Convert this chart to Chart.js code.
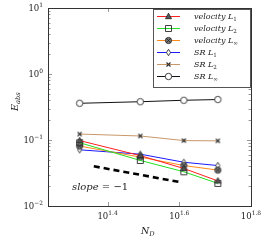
<!DOCTYPE html>
<html>
<head>
<meta charset="utf-8">
<script src="https://cdn.jsdelivr.net/npm/chart.js@4/dist/chart.umd.min.js"></script>
<style>
body { margin: 0; background: #fff; }
</style>
</head>
<body>
<canvas id="myChart" width="265" height="240"></canvas>
<script>
// data
const nD = [21, 31, 41, 51];
const velL1 = [0.098, 0.058, 0.037, 0.024];
const velL2 = [0.091, 0.049, 0.033, 0.022];
const velLinf = [0.081, 0.055, 0.041, 0.035];
const srL1 = [0.071, 0.061, 0.046, 0.041];
const srL2 = [0.123, 0.115, 0.098, 0.097];
const srLinf = [0.36, 0.38, 0.40, 0.41];
const slopeX = [23, 40];
const slopeY = [0.040, 0.023];

const yTickVals = [0.01, 0.1, 1, 10];
const yTickExp = ['-2', '-1', '0', '1'];
const xTickExp = ['1.4', '1.6', '1.8'];
const xTickVals = xTickExp.map(e => Math.pow(10, parseFloat(e)));

const SERIF = '"DejaVu Serif", "Liberation Serif", serif';
const MARK = '#2a2a2a';

// marker images
function markImg(kind) {
	const c = document.createElement('canvas');
	c.width = 11; c.height = 11;
	const g = c.getContext('2d');
	g.strokeStyle = MARK;
	g.lineWidth = 0.9;
	const m = 5.5;
	g.beginPath();
	if (kind == 'tri') {
		g.moveTo(m, m - 3.3); g.lineTo(m + 3, m + 2.2); g.lineTo(m - 3, m + 2.2); g.closePath();
		g.fillStyle = '#555'; g.fill(); g.stroke();
	} else if (kind == 'sq') {
		g.rect(m - 3, m - 3, 6, 6);
		g.stroke();
	} else if (kind == 'otimes') {
		g.arc(m, m, 3.1, 0, Math.PI * 2);
		g.fillStyle = '#777'; g.fill(); g.stroke();
		g.beginPath();
		g.moveTo(m - 2.1, m - 2.1); g.lineTo(m + 2.1, m + 2.1);
		g.moveTo(m + 2.1, m - 2.1); g.lineTo(m - 2.1, m + 2.1);
		g.stroke();
	} else if (kind == 'diam') {
		g.moveTo(m, m - 3.2); g.lineTo(m + 2, m); g.lineTo(m, m + 3.2); g.lineTo(m - 2, m); g.closePath();
		g.fillStyle = '#fff'; g.fill(); g.stroke();
	} else if (kind == 'x') {
		g.lineWidth = 1.1;
		g.moveTo(m - 2, m - 2); g.lineTo(m + 2, m + 2);
		g.moveTo(m + 2, m - 2); g.lineTo(m - 2, m + 2);
		g.stroke();
	} else {
		g.arc(m, m, 3.2, 0, Math.PI * 2);
		g.fillStyle = '#fff'; g.fill(); g.stroke();
	}
	return c;
}

const series = [
	{ name: 'velocity', sub: '1', data: velL1, color: '#ff2020', mark: markImg('tri') },
	{ name: 'velocity', sub: '2', data: velL2, color: '#22e022', mark: markImg('sq') },
	{ name: 'velocity', sub: '\u221e', data: velLinf, color: '#ff8a1c', mark: markImg('otimes') },
	{ name: 'SR', sub: '1', data: srL1, color: '#1a1aff', mark: markImg('diam') },
	{ name: 'SR', sub: '2', data: srL2, color: '#c89868', mark: markImg('x') },
	{ name: 'SR', sub: '\u221e', data: srLinf, color: '#111', mark: markImg('circ') }
];

const datasets = series.map(s => ({
	data: s.data.map((v, i) => ({ x: nD[i], y: v })),
	borderColor: s.color,
	borderWidth: 1,
	pointStyle: s.mark,
	pointRadius: 4,
	tension: 0
}));
datasets.push({
	data: slopeX.map((v, i) => ({ x: v, y: slopeY[i] })),
	borderColor: '#000',
	borderWidth: 2.6,
	borderDash: [6, 4],
	pointRadius: 0
});

function supText(ctx, base, exp, x, y, size, align) {
	ctx.font = size + 'px ' + SERIF;
	const wb = ctx.measureText(base).width;
	ctx.font = (size * 0.7) + 'px ' + SERIF;
	const we = ctx.measureText(exp).width;
	let x0 = x;
	if (align == 'right') x0 = x - wb - we;
	if (align == 'center') x0 = x - (wb + we) / 2;
	ctx.textAlign = 'left';
	ctx.textBaseline = 'alphabetic';
	ctx.font = size + 'px ' + SERIF;
	ctx.fillText(base, x0, y);
	ctx.font = (size * 0.7) + 'px ' + SERIF;
	ctx.fillText(exp, x0 + wb, y - size * 0.42);
}

function italicSub(ctx, main, sub, x, y, size, subItalic) {
	ctx.textAlign = 'left';
	ctx.textBaseline = 'alphabetic';
	ctx.font = 'italic ' + size + 'px ' + SERIF;
	ctx.fillText(main, x, y);
	const w = ctx.measureText(main).width;
	ctx.font = (subItalic ? 'italic ' : '') + (size * 0.7) + 'px ' + SERIF;
	ctx.fillText(sub, x + w, y + size * 0.25);
	return w + ctx.measureText(sub).width;
}

const frame = {
	id: 'frame',
	afterDraw(chart) {
		const ctx = chart.ctx;
		const a = chart.chartArea;
		const xs = chart.scales.x, ys = chart.scales.y;
		ctx.save();
		ctx.setLineDash([]);
		ctx.lineWidth = 1;
		// ticks
		ctx.beginPath();
		yTickVals.forEach((v, k) => {
			const py = Math.round(ys.getPixelForValue(v)) + 0.5;
			ctx.moveTo(a.left, py); ctx.lineTo(a.left + 4, py);
			ctx.moveTo(a.right, py); ctx.lineTo(a.right - 4, py);
			if (k < yTickVals.length - 1) {
				for (let m = 2; m < 10; m++) {
					const q = Math.round(ys.getPixelForValue(v * m)) + 0.5;
					ctx.moveTo(a.left, q); ctx.lineTo(a.left + 2.5, q);
					ctx.moveTo(a.right, q); ctx.lineTo(a.right - 2.5, q);
				}
			}
		});
		xTickVals.forEach(v => {
			const px = Math.round(xs.getPixelForValue(v)) + 0.5;
			ctx.moveTo(px, a.bottom); ctx.lineTo(px, a.bottom - 4);
			ctx.moveTo(px, a.top); ctx.lineTo(px, a.top + 4);
		});
		ctx.strokeStyle = '#999';
		ctx.stroke();
		ctx.fillStyle = '#333';
		const L = Math.round(a.left), R = Math.round(a.right), T = Math.round(a.top), B = Math.round(a.bottom);
		ctx.fillRect(L, T, R - L + 1, 1);
		ctx.fillRect(L, B, R - L + 1, 1);
		ctx.fillRect(L, T, 1, B - T + 1);
		ctx.fillRect(R, T, 1, B - T + 1);

		// legend
		const lx = 153, ly = 9, lw = 97, lh = 78;
		ctx.fillStyle = '#fff';
		ctx.fillRect(lx, ly, lw, lh);
		ctx.fillStyle = '#555';
		ctx.fillRect(lx, ly, lw + 1, 1);
		ctx.fillRect(lx, ly + lh, lw + 1, 1);
		ctx.fillRect(lx, ly, 1, lh + 1);
		ctx.fillRect(lx + lw, ly, 1, lh + 1);
		series.forEach((s, i) => {
			const cy = 16 + i * 12;
			ctx.fillStyle = s.color;
			ctx.fillRect(157, cy, 23, 1);
			ctx.drawImage(s.mark, 168.5 - 5.5, cy + 0.5 - 5.5);
			ctx.fillStyle = '#222';
			ctx.font = 'italic 8px ' + SERIF;
			ctx.textAlign = 'left';
			ctx.textBaseline = 'alphabetic';
			ctx.fillText(s.name, 194, cy + 3);
			const w = ctx.measureText(s.name + ' ').width;
			italicSub(ctx, 'L', s.sub, 194 + w, cy + 3, 8, false);
		});

		// tick labels
		ctx.fillStyle = '#222';
		yTickVals.forEach((v, k) => {
			supText(ctx, '10', yTickExp[k].replace('-', '\u2212'), a.left - 5, ys.getPixelForValue(v) + 3, 8.5, 'right');
		});
		xTickVals.forEach((v, k) => {
			supText(ctx, '10', xTickExp[k], xs.getPixelForValue(v), a.bottom + 13, 8.5, 'center');
		});
		// axis titles
		italicSub(ctx, 'N', 'D', 141, a.bottom + 28, 9.5, true);
		ctx.save();
		ctx.translate(18, 111);
		ctx.rotate(-Math.PI / 2);
		italicSub(ctx, 'E', 'abs', 0, 0, 9.5, true);
		ctx.restore();
		// slope label
		ctx.font = 'italic 10px ' + SERIF;
		ctx.textAlign = 'left';
		ctx.fillText('slope', 72, 190);
		const w = ctx.measureText('slope').width;
		ctx.font = '10px ' + SERIF;
		ctx.fillText(' = \u22121', 72 + w, 190);
		ctx.restore();
	}
};

const ctx = document.getElementById('myChart').getContext('2d');
const myChart = new Chart(ctx, {
	type: 'line',
	data: { datasets: datasets },
	options: {
		responsive: false,
		animation: false,
		layout: { padding: { left: 48, right: 14, top: 8, bottom: 34 } },
		plugins: {
			legend: { display: false },
			tooltip: { enabled: false }
		},
		scales: {
			x: {
				type: 'logarithmic',
				display: false,
				min: Math.pow(10, 1.234),
				max: Math.pow(10, 1.8)
			},
			y: {
				type: 'logarithmic',
				display: false,
				min: 0.01,
				max: 10
			}
		}
	},
	plugins: [frame]
});
</script>
</body>
</html>
